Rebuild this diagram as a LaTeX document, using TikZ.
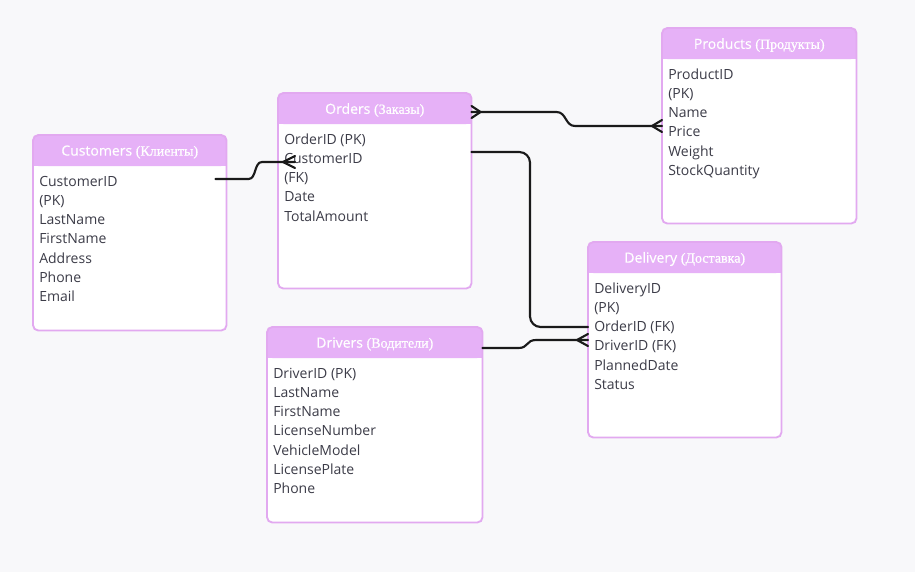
\documentclass[tikz,border=0pt]{standalone}
\usepackage{fontspec}
\setmainfont{Open Sans}
\newfontfamily\hdrfont[FakeBold=0.6]{Open Sans}
\newfontfamily\cyr[FakeBold=0.8]{Liberation Serif}
\usetikzlibrary{calc}
\definecolor{bg}{HTML}{F8F8FA}
\definecolor{hdr}{HTML}{E6B1F7}
\definecolor{bord}{HTML}{E2A9F0}
\definecolor{txt}{HTML}{3C3C48}
\definecolor{conn}{HTML}{1A1A1A}
\tikzset{
  tblbox/.style={rectangle, fill=white, rounded corners=4, inner sep=0pt, minimum height=195*0.75pt, draw=none},
  hdrtxt/.style={text=white, inner sep=0pt, font=\hdrfont\fontsize{10.5}{12}\selectfont},
  rowtxt/.style={text=txt, inner sep=0pt, anchor=base west, font=\fontsize{10.5}{12}\selectfont},
  conline/.style={draw=conn, line width=1.6pt, line cap=round, line join=round},
}
\newcommand\ertable[6]{%
  \node[tblbox, minimum width=#4*0.75pt, anchor=north west] (#1) at (#2,#3) {};
  \fill[hdr, rounded corners=4] (#1.north west) rectangle ($(#1.north east)+(0,31)$);
  \fill[hdr] ($(#1.north west)+(0,12)$) rectangle ($(#1.north east)+(0,31)$);
  \draw[bord, line width=1.4pt, rounded corners=4] (#1.north west) rectangle (#1.south east);
  \node[hdrtxt] (#1-h) at ($(#1.north)+(0,17)$) {#5};
  \foreach \r [count=\i] in {#6} {
    \node[rowtxt] (#1-r\i) at ($(#1.north west)+(6,{51+19.3*(\i-1)})$) {\r};
  }
}
\newcommand\ru[1]{{\cyr\fontsize{10.5}{12}\selectfont#1}}
\begin{document}
\begin{tikzpicture}[x=0.75pt,y=-0.75pt]
\fill[bg] (0,0) rectangle (915,572);
\useasboundingbox (0,0) rectangle (915,572);

\ertable{cust}{33}{135}{193}{Customers \ru{(Клиенты)}}{CustomerID,(PK),LastName,FirstName,Address,Phone,Email}
\ertable{ord}{278}{93}{193}{Orders \ru{(Заказы)}}{OrderID (PK),CustomerID,(FK),Date,TotalAmount}
\ertable{prod}{662}{28}{194}{Products \ru{(Продукты)}}{ProductID,(PK),Name,Price,Weight,StockQuantity}
\ertable{del}{588}{242}{193}{Delivery \ru{(Доставка)}}{DeliveryID,(PK),OrderID (FK),DriverID (FK),PlannedDate,Status}
\ertable{drv}{267}{327}{215}{Drivers \ru{(Водители)}}{DriverID (PK),LastName,FirstName,LicenseNumber,VehicleModel,LicensePlate,Phone}

% connector endpoints
\coordinate (c1s) at ($(cust.north east)+(-11,44)$);
\coordinate (c1e) at ($(ord.north west)+(17,69)$);
\coordinate (c2s) at ($(ord.north east)+(0,19)$);
\coordinate (c2e) at ($(prod.north west)+(0,98)$);
\coordinate (c3s) at ($(ord.north east)+(0,59)$);
\coordinate (c3e) at ($(del.north west)+(0,85)$);
\coordinate (c4s) at ($(drv.north east)+(0,21)$);
\coordinate (c4e) at ($(del.north west)+(0,98)$);

% Customers -> Orders
\draw[conline] (c1s) -- ++(33,0) .. controls +(8,0) and +(-8,0) .. ($(c1e)+(-33,0)$) -- (c1e);
\draw[conline] ($(c1e)+(-12,0)$) -- ++(12,-6) ($(c1e)+(-12,0)$) -- ++(12,6);

% Orders <-> Products
\draw[conline] (c2s) -- ++(85,0) .. controls +(10,0) and +(-10,0) .. ($(c2e)+(-87,0)$) -- (c2e);
\draw[conline] ($(c2s)+(9,0)$) -- ++(-9,-6) ($(c2s)+(9,0)$) -- ++(-9,6);
\draw[conline] ($(c2e)+(-10,0)$) -- ++(10,-6) ($(c2e)+(-10,0)$) -- ++(10,6);

% Orders -> Delivery
\draw[conline, rounded corners=8] (c3s) -| ($(c3e)+(-58,0)$) -- (c3e);

% Drivers -> Delivery
\draw[conline] (c4s) -- ++(36,0) .. controls +(10,0) and +(-10,0) .. ($(c4e)+(-52,0)$) -- (c4e);
\draw[conline] ($(c4e)+(-11,0)$) -- ++(11,-6) ($(c4e)+(-11,0)$) -- ++(11,6);
\end{tikzpicture}
\end{document}
